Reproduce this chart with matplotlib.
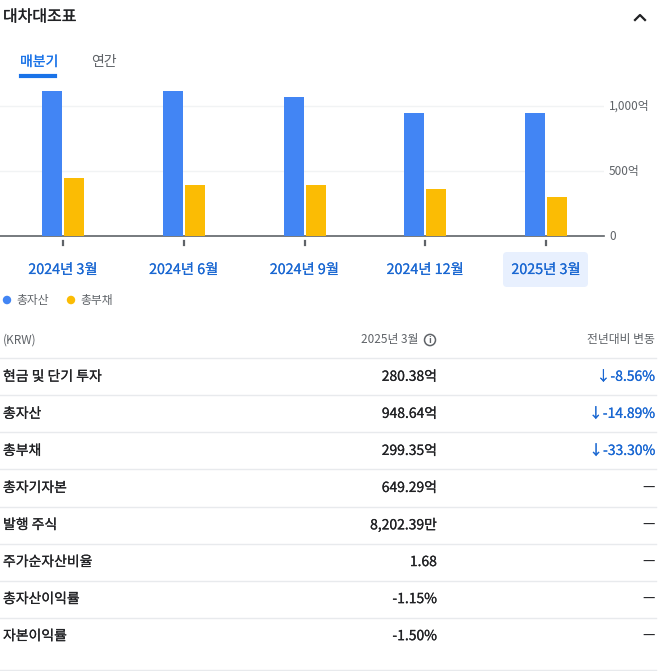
import matplotlib
matplotlib.use("Agg")
import matplotlib.pyplot as plt
import matplotlib.patheffects as pe
from matplotlib.patches import FancyBboxPatch, Circle
from matplotlib.lines import Line2D

plt.rcParams['font.family'] = ['Noto Sans CJK KR', 'DejaVu Sans']

# chart data (unit: 억 KRW)
periods = ['2024년 3월', '2024년 6월', '2024년 9월', '2024년 12월', '2025년 3월']
total_assets = [1115, 1115, 1070, 950, 948.64]
total_liabilities = [449, 394, 394, 363, 299.35]
y_ticks = [0, 500, 1000]
y_tick_labels = ['0', '500억', '1,000억']

# table data
row_labels = ['현금 및 단기 투자', '총자산', '총부채', '총자기자본', '발행 주식',
              '주가순자산비율', '총자산이익률', '자본이익률']
row_values = ['280.38억', '948.64억', '299.35억', '649.29억', '8,202.39만',
              '1.68', '-1.15%', '-1.50%']
row_changes = ['↓-8.56%', '↓-14.89%', '↓-33.30%', '—', '—', '—', '—', '—']

W, H = 660, 671
BLUE = '#4285f4'
YELLOW = '#fbbc04'
LINKBLUE = '#1967d2'
DARK = '#202124'
GRAY = '#5f6368'
LINE = '#e8eaed'

fig = plt.figure(figsize=(W / 100, H / 100), dpi=100)


def fx(x):
    return x / W


def fy(y):
    return 1 - y / H


def txt(x, y, s, stroke=0.0, **kw):
    t = fig.text(fx(x), fy(y), s, va='center', **kw)
    if stroke:
        # no Medium face installed: thicken the regular one a little
        t.set_path_effects([pe.withStroke(linewidth=stroke, foreground=kw.get('color', DARK))])
    return t


def hline(x0, x1, y, color=LINE, lw=1.0):
    fig.add_artist(Line2D([fx(x0), fx(x1)], [fy(y), fy(y)], color=color, lw=lw,
                          transform=fig.transFigure))


# header
txt(3, 17, '대차대조표', stroke=0.2, fontsize=11.5, color=DARK)
fig.add_artist(Line2D([fx(635), fx(640), fx(645)], [fy(20), fy(15), fy(20)],
                      color=DARK, lw=1.6, transform=fig.transFigure))

# tabs
txt(20, 62, '매분기', stroke=0.15, fontsize=10, color='#1a73e8')
txt(91, 62, '연간', fontsize=10, color=GRAY)
hline(21, 55, 76, color='#1a73e8', lw=3)

# bar chart axes: baseline at y=236 px, 130 px per 1000
top_val = 1200
ax_top = 236 - top_val * 0.13
ax = fig.add_axes([fx(0), fy(236), fx(604), (236 - ax_top) / H])
x = list(range(len(periods)))
off = 0.091
bw = 0.166
ax.bar([i - off for i in x], total_assets, width=bw, color=BLUE, zorder=3)
ax.bar([i + off for i in x], total_liabilities, width=bw, color=YELLOW, zorder=3)
ax.set_xlim(-0.522, 4.48)
ax.set_ylim(0, top_val)
for v in y_ticks[1:]:
    ax.axhline(v, color='#f1f3f4', lw=1, zorder=1)
for s in ['top', 'right', 'left']:
    ax.spines[s].set_visible(False)
ax.spines['bottom'].set_color('#5f6368')
ax.spines['bottom'].set_linewidth(1.2)
ax.set_xticks([])
ax.set_yticks([])
ax.patch.set_alpha(0)
# small detached tick marks under the baseline
tick_tr = ax.get_xaxis_transform()
for i in x:
    ax.plot([i, i], [-4.5 / 156, -8.5 / 156], color='#5f6368', lw=1.6,
            transform=tick_tr, clip_on=False)

for v, lab in zip(y_ticks, y_tick_labels):
    txt(609, 236 - v * 0.13, lab, fontsize=8.5, color=GRAY)

# x labels, last one highlighted
fig.add_artist(FancyBboxPatch((fx(503), fy(287)), fx(85), 35 / H,
                              boxstyle='round,pad=0,rounding_size=0.006',
                              facecolor='#e8f0fe', edgecolor='none',
                              transform=fig.transFigure))
for i, p in enumerate(periods):
    txt(63 + 120.75 * i, 270, p, stroke=0.1, fontsize=10.3, color=LINKBLUE, ha='center')

# legend
fig.add_artist(Circle((fx(7), fy(300)), 3.5 / W, color=BLUE, transform=fig.transFigure))
txt(16, 300, '총자산', fontsize=8.5, color=GRAY)
fig.add_artist(Circle((fx(71), fy(300)), 3.5 / W, color=YELLOW, transform=fig.transFigure))
txt(80, 300, '총부채', fontsize=8.5, color=GRAY)

# table header
txt(3, 340, '(KRW)', fontsize=8.5, color=GRAY)
txt(418, 340, '2025년 3월', fontsize=8.5, color=GRAY, ha='right')
fig.add_artist(Circle((fx(430), fy(340)), 5.5 / W, facecolor='none', edgecolor=GRAY,
                      lw=1.1, transform=fig.transFigure))
txt(430, 340.5, 'i', fontsize=6.5, color=GRAY, ha='center', fontweight='bold')
txt(655, 340, '전년대비 변동', fontsize=8.5, color=GRAY, ha='right')

# table rows
line_y = 358.3
row_h = 37.05
for k in range(len(row_labels)):
    hline(0, 656, line_y + k * row_h)
    yc = line_y + k * row_h + 18.5
    txt(3, yc, row_labels[k], stroke=0.15, fontsize=10, color=DARK)
    txt(437, yc, row_values[k], stroke=0.15, fontsize=10, color=DARK, ha='right')
    is_change = row_changes[k].startswith('↓')
    col = LINKBLUE if is_change else DARK
    txt(655, yc, row_changes[k], stroke=0.15 if is_change else 0.0, fontsize=10,
        color=col, ha='right')
hline(0, 656, 669.5)

fig.savefig('out.png', dpi=100)
